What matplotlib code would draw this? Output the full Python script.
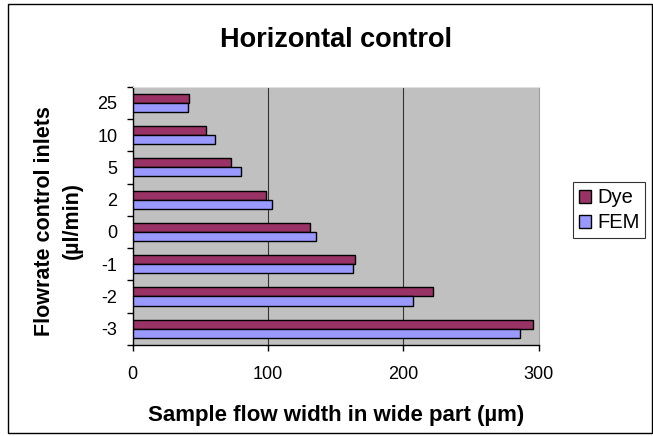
import matplotlib
matplotlib.use("Agg")
import matplotlib.pyplot as plt
import numpy as np
from matplotlib.patches import Rectangle

plt.rcParams["font.family"] = ["Liberation Sans", "DejaVu Sans"]

inlets = ["-3", "-2", "-1", "0", "2", "5", "10", "25"]
dye = [295.6, 221.6, 164.1, 131.4, 98.8, 72.5, 54.5, 41.8]
fem = [286.0, 206.9, 162.9, 135.6, 103.0, 79.9, 60.9, 40.8]

DYE_COLOR = "#993366"
FEM_COLOR = "#9999FF"
BG = "#C0C0C0"

fig = plt.figure(figsize=(6.53, 4.36), dpi=100)
ax = fig.add_axes([0.203, 0.209, 0.622, 0.592])
ax.set_facecolor(BG)

pos = np.arange(len(inlets))
h = 0.28
ax.barh(pos + h / 2, dye, height=h, color=DYE_COLOR, edgecolor="black", linewidth=1.0, label="Dye", zorder=3)
ax.barh(pos - h / 2, fem, height=h, color=FEM_COLOR, edgecolor="black", linewidth=1.0, label="FEM", zorder=3)

ax.set_xlim(0, 300)
ax.set_ylim(-0.5, len(inlets) - 0.5)
ax.set_xticks([0, 100, 200, 300])
ax.set_xticklabels(["0", "100", "200", "300"], fontsize=13)
ax.set_yticks(pos)
ax.set_yticklabels(inlets, fontsize=13)
ax.set_yticks(np.arange(len(inlets) + 1) - 0.5, minor=True)
ax.tick_params(axis="y", which="major", length=0, pad=11)
ax.tick_params(axis="y", which="minor", length=4, direction="out", width=1)
ax.tick_params(axis="x", length=4, direction="out", width=1, pad=11)
for x in [100, 200]:
    ax.axvline(x, color="#333333", linewidth=0.8, zorder=1)
ax.spines["top"].set_color("#E0E0E0")
ax.spines["right"].set_color("#A0A0A0")
ax.spines["left"].set_linewidth(1)
ax.spines["bottom"].set_linewidth(1)

ax.set_xlabel("Sample flow width in wide part (µm)", fontsize=16, fontweight="bold")
ax.xaxis.set_label_coords(0.5, -0.275)
ax.xaxis.label.set_va("center")
ax.set_ylabel("Flowrate control inlets\n(µl/min)", fontsize=15.5, fontweight="bold", linespacing=1.4)
ax.yaxis.set_label_coords(-0.183, 0.48)
ax.yaxis.label.set_va("center")
fig.text(0.514, 0.908, "Horizontal control", ha="center", va="center", fontsize=19.5, fontweight="bold")

leg = ax.legend(loc="center left", bbox_to_anchor=(1.084, 0.521), fontsize=14.5, frameon=True,
                fancybox=False, edgecolor="black", handlelength=0.6, handleheight=0.6,
                handletextpad=0.3, borderpad=0.3, labelspacing=0.3, borderaxespad=0)
leg.get_frame().set_linewidth(0.8)

fig.patches.append(Rectangle((8 / 653, 3 / 436), 644 / 653, 429 / 436, transform=fig.transFigure,
                             fill=False, edgecolor="black", linewidth=1.0))

fig.savefig("out.png", dpi=100)
